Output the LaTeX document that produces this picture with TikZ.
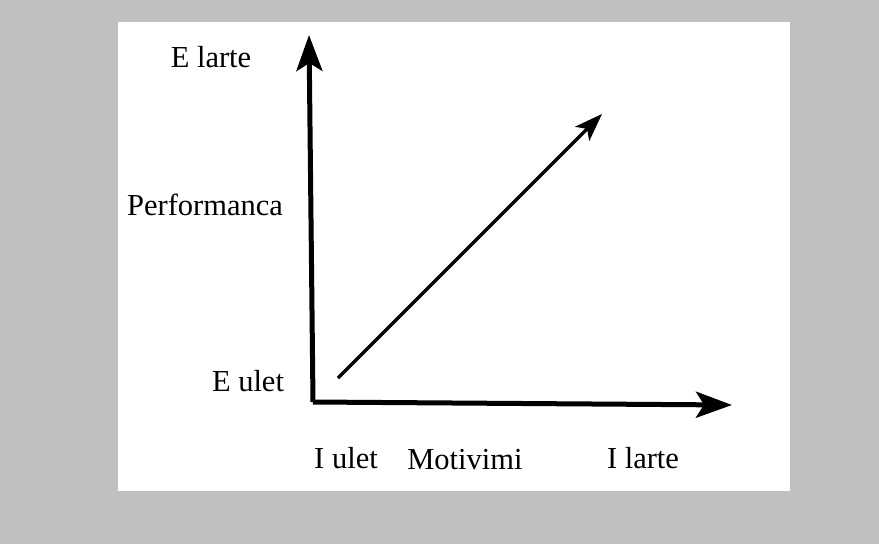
\documentclass[tikz,border=0pt]{standalone}
\usepackage{fontspec}
\setmainfont{Liberation Serif}
\usetikzlibrary{arrows.meta}
\definecolor{framegray}{RGB}{192,192,192}
\tikzset{
  axis/.style={line width=5pt, -{Stealth[length=36pt, width=26pt, inset=8pt]}},
  trend/.style={line width=3.2pt, -{Stealth[length=28pt, width=20pt, inset=7pt]}},
  lbl/.style={anchor=base, inner sep=0pt, font=\fontsize{30.5}{36}\selectfont}
}
\begin{document}
\begin{tikzpicture}[x=1pt, y=-1pt]
    \fill [framegray] (0,0) rectangle (879,544);
    \fill [white] (118,22) rectangle (790,491);
    \useasboundingbox (0,0) rectangle (879,544);
    % axes
    \coordinate (origin) at (313,402);
    \coordinate (ytop) at (309,35);
    \coordinate (xend) at (732,405);
    \draw [axis] (origin) -- (ytop);
    \draw [axis] (origin) -- (xend);
    % diagonal
    \coordinate (dstart) at (338,378);
    \coordinate (dend) at (602,114);
    \draw [trend] (dstart) -- (dend);
    % labels
    \node [lbl] (high) at (211,67) {E larte};
    \node [lbl] (perf) at (205,215) {Performanca};
    \node [lbl] (low) at (248,391) {E ulet};
    \node [lbl] (xlow) at (346,468) {I ulet};
    \node [lbl] (motiv) at (465,469) {Motivimi};
    \node [lbl] (xhigh) at (643,468) {I larte};
\end{tikzpicture}
\end{document}
